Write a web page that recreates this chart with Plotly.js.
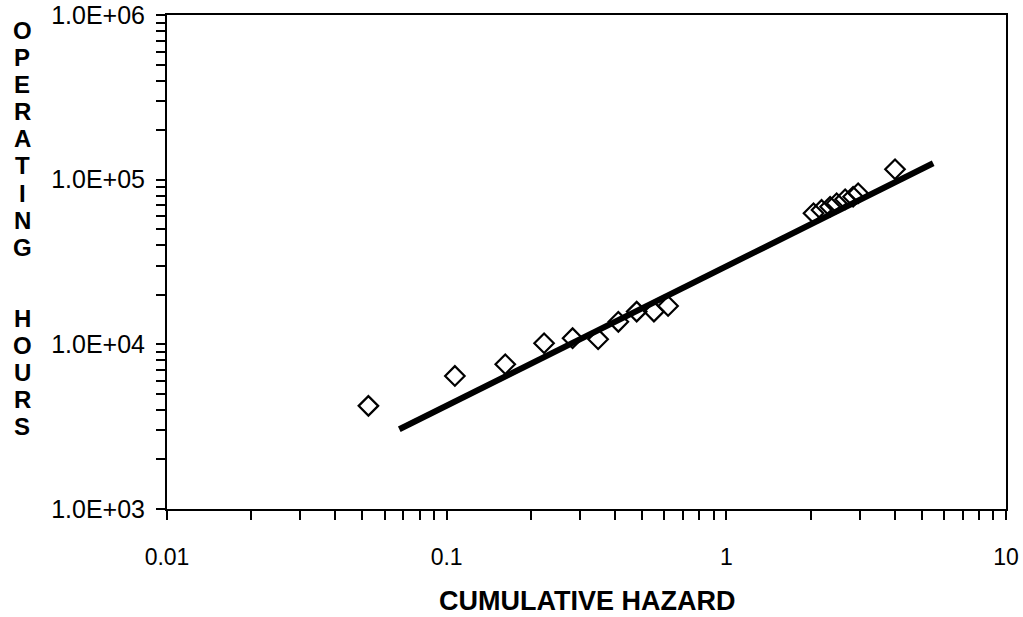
<!DOCTYPE html>
<html>
<head>
<meta charset="utf-8">
<script src="https://cdn.plot.ly/plotly-3.0.1.min.js"></script>
<style>html,body{margin:0;padding:0;background:#fff;}#chart{width:1023px;height:617px;}</style>
</head>
<body>
<div id="chart"></div>
<script>
// Observed failures: cumulative hazard vs operating hours
const hazard = [0.0525, 0.107, 0.162, 0.223, 0.282, 0.348, 0.411, 0.478, 0.551, 0.619,
                2.05, 2.19, 2.35, 2.48, 2.66, 2.84, 2.96, 4.01];
const hours  = [4230, 6430, 7570, 10150, 10900, 10750, 13700, 15800, 15800, 17100,
                62500, 65500, 68500, 71900, 76000, 78800, 82700, 115700];
// Fitted line endpoints
const fitHazard = [0.0677, 5.49];
const fitHours  = [3050, 125800];

const xDecades = [0.01, 0.1, 1, 10];
const xDecadeLabels = ["0.01", "0.1", "1", "10"];
const yDecades = [1e3, 1e4, 1e5, 1e6];
const yDecadeLabels = ["1.0E+03", "1.0E+04", "1.0E+05", "1.0E+06"];
const xTitle = "CUMULATIVE HAZARD";
const yTitleWords = ["OPERATING", "HOURS"];

function logTicks(decades, labels) {
  const vals = [], text = [];
  decades.forEach((d, i) => {
    vals.push(d); text.push(labels[i]);
    if (i < decades.length - 1) {
      for (let k = 2; k <= 9; k++) { vals.push(d * k); text.push(""); }
    }
  });
  return {vals, text};
}
const xt = logTicks(xDecades, xDecadeLabels);
const yt = logTicks(yDecades, yDecadeLabels);

const font = "Liberation Sans, Arial, sans-serif";

const traces = [
  {
    x: fitHazard, y: fitHours, mode: "lines", type: "scatter",
    line: {color: "#000", width: 6}, hoverinfo: "skip", showlegend: false
  },
  {
    x: hazard, y: hours, mode: "markers", type: "scatter",
    marker: {symbol: "diamond-open", size: 15, color: "#000", line: {width: 2.2, color: "#000"}},
    showlegend: false
  }
];

// Stacked vertical title letters (one letter per line)
const plotTop = 15, plotH = 494;
const wordStarts = [30, 318];   // pixel centre of first letter of each word
const letterStep = 27.2;
const titleAnnots = [];
yTitleWords.forEach((w, wi) => {
  w.split("").forEach((ch, ci) => {
    const py = wordStarts[wi] + ci * letterStep;
    titleAnnots.push({
      text: "<b>" + ch + "</b>", xref: "paper", yref: "paper",
      x: 0, xshift: -145, y: 1 - (py - plotTop) / plotH,
      xanchor: "center", yanchor: "middle", showarrow: false,
      font: {family: font, size: 24, color: "#000"}
    });
  });
});

const layout = {
  width: 1023, height: 617,
  margin: {l: 167, r: 17, t: 15, b: 108, pad: 0},
  paper_bgcolor: "#fff", plot_bgcolor: "#fff",
  font: {family: font, color: "#000", size: 22},
  showlegend: false,
  xaxis: {
    type: "log", range: [Math.log10(0.01), Math.log10(10)],
    tickmode: "array", tickvals: xt.vals, ticktext: xt.text,
    ticks: "outside", ticklen: 9, tickwidth: 2, tickcolor: "#000",
    showline: true, linewidth: 2, linecolor: "#000", mirror: true,
    showgrid: false, zeroline: false,
    tickfont: {family: font, size: 23, color: "#000"},
    ticklabelstandoff: 17
  },
  yaxis: {
    type: "log", range: [Math.log10(1e3), Math.log10(1e6)],
    tickmode: "array", tickvals: yt.vals, ticktext: yt.text,
    ticks: "outside", ticklen: 9, tickwidth: 2, tickcolor: "#000",
    showline: true, linewidth: 2, linecolor: "#000", mirror: true,
    showgrid: false, zeroline: false,
    tickfont: {family: font, size: 25, color: "#000"},
    ticklabelstandoff: 6
  },
  annotations: [
    {
      text: "<b>" + xTitle + "</b>", xref: "paper", yref: "paper",
      x: 0.5, y: 0, yshift: -92, xanchor: "center", yanchor: "middle",
      showarrow: false, font: {family: font, size: 27, color: "#000"}
    }
  ].concat(titleAnnots)
};

Plotly.newPlot("chart", traces, layout, {displayModeBar: false, staticPlot: true});
</script>
</body>
</html>
